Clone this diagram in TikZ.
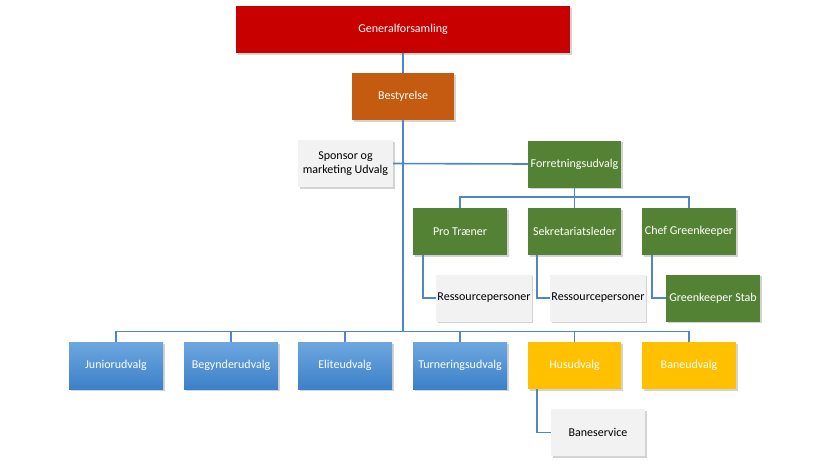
\documentclass[tikz,border=0pt]{standalone}
\usepackage{fontspec}
\setmainfont{Carlito}
\usetikzlibrary{shadows,backgrounds}

\definecolor{genred}{HTML}{C80000}
\definecolor{bestorange}{HTML}{C55A11}
\definecolor{forrgreen}{HTML}{548235}
\definecolor{husyellow}{HTML}{FFC000}
\definecolor{boxgray}{HTML}{F2F2F2}
\definecolor{bluetop}{HTML}{6DA7DF}
\definecolor{bluebot}{HTML}{3D80C9}
\definecolor{linkblue}{HTML}{4F86C6}

\begin{document}
\begin{tikzpicture}[x=1pt,y=-1pt,
  box/.style={minimum width=94pt, minimum height=47pt, inner sep=1pt,
    align=center, font=\fontsize{12}{14}\selectfont,
    drop shadow={shadow xshift=1.5pt, shadow yshift=-1.5pt, opacity=0.35}},
  redbox/.style={box, fill=genred, text=white},
  orangebox/.style={box, fill=bestorange, text=white},
  greenbox/.style={box, fill=forrgreen, text=white},
  yellowbox/.style={box, fill=husyellow, text=white},
  graybox/.style={box, fill=boxgray, text=black},
  bluebox/.style={box, top color=bluetop, bottom color=bluebot, text=white},
  conn/.style={draw=linkblue, line width=1.6pt}
]

\useasboundingbox (0,0) rectangle (830,467);

% Top
\node[redbox, minimum width=334pt] (gen) at (403,29.5) {Generalforsamling};
\node[orangebox, minimum width=102pt] (best) at (403,96.5) {Bestyrelse};

% Udvalg under bestyrelsen
\node[graybox, minimum width=95pt] (spons) at (345.5,163.5) {Sponsor og\\marketing Udvalg};
\node[greenbox, minimum width=93pt] (forr) at (574.5,164) {Forretningsudvalg};

% Forretningsudvalgets led
\node[greenbox] (pro) at (460,231.5) {Pro Træner};
\node[greenbox, minimum width=93pt] (sek) at (574.5,231.5) {Sekretariatsleder};
\node[greenbox] (chef) at (689,231.5) {Chef Greenkeeper};

\node[graybox] (res1) at (484,298) {Ressourcepersoner};
\node[graybox] (res2) at (598,298) {Ressourcepersoner};
\node[greenbox] (stab) at (713,298) {Greenkeeper Stab};

% Bottom row
\node[bluebox] (jun) at (116,365.5) {Juniorudvalg};
\node[bluebox] (beg) at (231,365.5) {Begynderudvalg};
\node[bluebox] (elite) at (345,365.5) {Eliteudvalg};
\node[bluebox] (turn) at (460,365.5) {Turneringsudvalg};
\node[yellowbox, minimum width=93pt] (hus) at (574.5,365.5) {Husudvalg};
\node[yellowbox] (bane) at (689,365.5) {Baneudvalg};

\node[graybox] (serv) at (598,432.5) {Baneservice};

% Connectors
\coordinate (fbus) at (574.5,197);
\coordinate (bbus) at (403,331.5);

\begin{scope}[on background layer]
\draw[conn] (gen.south) -- (bbus);
\draw[conn] (spons.east) -- (forr.west);

\draw[conn] (forr.south) -- (fbus);
\draw[conn] (pro.north) |- (fbus) -| (chef.north);
\draw[conn] (fbus) -- (sek.north);

\draw[conn] ([xshift=10pt]pro.south west) |- (res1.west);
\draw[conn] ([xshift=9pt]sek.south west) |- (res2.west);
\draw[conn] ([xshift=10pt]chef.south west) |- (stab.west);

\draw[conn] (jun.north) |- (bbus) -| (bane.north);
\foreach \n in {beg,elite,turn,hus}
  \draw[conn] (\n.north) -- (\n.north |- bbus);

\draw[conn] ([xshift=9pt]hus.south west) |- (serv.west);
\end{scope}

\end{tikzpicture}
\end{document}
